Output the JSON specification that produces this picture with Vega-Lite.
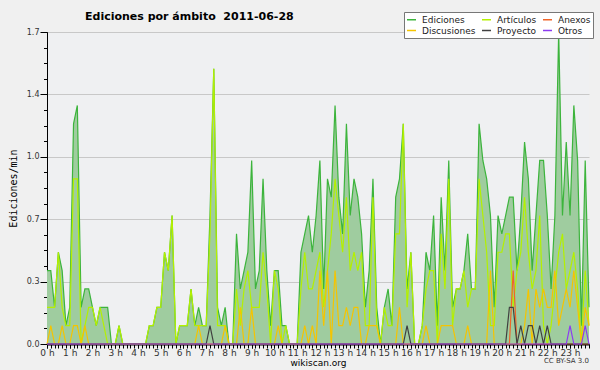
{
  "$schema": "https://vega.github.io/schema/vega-lite/v6.json",
  "autosize": {"type": "none"},
  "width": 542,
  "height": 312,
  "padding": {"left": 47, "top": 32, "right": 11, "bottom": 26},
  "background": "#f0f0f0",
  "config": {
    "view": {"stroke": null, "fill": "#eff0f2"},
    "font": "DejaVu Sans",
    "axis": {"domainColor": "#000", "tickColor": "#000", "labelColor": "#333", "titleColor": "#000", "titleFontWeight": "normal", "labelFont": "DejaVu Sans"}
  },
  "title": {"text": "Ediciones por ámbito\u00a0 2011-06-28", "anchor": "start", "frame": "group", "dx": 38, "offset": -21, "baseline": "bottom", "fontSize": 11, "font": "DejaVu Sans", "fontWeight": "bold", "color": "#000"},
  "data": {"values": [
    {"m":0,"Ediciones":0.4,"Artículos":0.2,"Discusiones":0,"Anexos":0,"Proyecto":0,"Otros":0},
    {"m":10,"Ediciones":0.4,"Artículos":0.2,"Discusiones":0.1,"Anexos":0,"Proyecto":0,"Otros":0},
    {"m":20,"Ediciones":0.2,"Artículos":0.2,"Discusiones":0,"Anexos":0,"Proyecto":0,"Otros":0},
    {"m":30,"Ediciones":0.5,"Artículos":0.5,"Discusiones":0,"Anexos":0,"Proyecto":0,"Otros":0},
    {"m":40,"Ediciones":0.4,"Artículos":0.2,"Discusiones":0.1,"Anexos":0,"Proyecto":0,"Otros":0},
    {"m":50,"Ediciones":0.1,"Artículos":0.1,"Discusiones":0,"Anexos":0,"Proyecto":0,"Otros":0},
    {"m":60,"Ediciones":0.2,"Artículos":0.1,"Discusiones":0,"Anexos":0,"Proyecto":0,"Otros":0},
    {"m":70,"Ediciones":1.2,"Artículos":0.9,"Discusiones":0.1,"Anexos":0,"Proyecto":0,"Otros":0},
    {"m":80,"Ediciones":1.3,"Artículos":0.9,"Discusiones":0.1,"Anexos":0,"Proyecto":0,"Otros":0},
    {"m":90,"Ediciones":0.2,"Artículos":0,"Discusiones":0,"Anexos":0,"Proyecto":0,"Otros":0},
    {"m":100,"Ediciones":0.3,"Artículos":0.1,"Discusiones":0.1,"Anexos":0,"Proyecto":0,"Otros":0},
    {"m":110,"Ediciones":0.3,"Artículos":0.2,"Discusiones":0,"Anexos":0,"Proyecto":0,"Otros":0},
    {"m":120,"Ediciones":0.2,"Artículos":0.2,"Discusiones":0,"Anexos":0,"Proyecto":0,"Otros":0},
    {"m":130,"Ediciones":0.1,"Artículos":0.1,"Discusiones":0,"Anexos":0,"Proyecto":0,"Otros":0},
    {"m":140,"Ediciones":0.2,"Artículos":0.2,"Discusiones":0,"Anexos":0,"Proyecto":0,"Otros":0},
    {"m":150,"Ediciones":0.2,"Artículos":0.1,"Discusiones":0,"Anexos":0,"Proyecto":0,"Otros":0},
    {"m":160,"Ediciones":0.2,"Artículos":0,"Discusiones":0,"Anexos":0,"Proyecto":0,"Otros":0},
    {"m":170,"Ediciones":0,"Artículos":0,"Discusiones":0,"Anexos":0,"Proyecto":0,"Otros":0},
    {"m":180,"Ediciones":0,"Artículos":0,"Discusiones":0,"Anexos":0,"Proyecto":0,"Otros":0},
    {"m":190,"Ediciones":0.1,"Artículos":0.1,"Discusiones":0,"Anexos":0,"Proyecto":0,"Otros":0},
    {"m":200,"Ediciones":0,"Artículos":0,"Discusiones":0,"Anexos":0,"Proyecto":0,"Otros":0},
    {"m":210,"Ediciones":0,"Artículos":0,"Discusiones":0,"Anexos":0,"Proyecto":0,"Otros":0},
    {"m":220,"Ediciones":0,"Artículos":0,"Discusiones":0,"Anexos":0,"Proyecto":0,"Otros":0},
    {"m":230,"Ediciones":0,"Artículos":0,"Discusiones":0,"Anexos":0,"Proyecto":0,"Otros":0},
    {"m":240,"Ediciones":0,"Artículos":0,"Discusiones":0,"Anexos":0,"Proyecto":0,"Otros":0},
    {"m":250,"Ediciones":0,"Artículos":0,"Discusiones":0,"Anexos":0,"Proyecto":0,"Otros":0},
    {"m":260,"Ediciones":0,"Artículos":0,"Discusiones":0,"Anexos":0,"Proyecto":0,"Otros":0},
    {"m":270,"Ediciones":0.1,"Artículos":0.1,"Discusiones":0,"Anexos":0,"Proyecto":0,"Otros":0},
    {"m":280,"Ediciones":0.1,"Artículos":0.1,"Discusiones":0,"Anexos":0,"Proyecto":0,"Otros":0},
    {"m":290,"Ediciones":0.2,"Artículos":0.2,"Discusiones":0,"Anexos":0,"Proyecto":0,"Otros":0},
    {"m":300,"Ediciones":0.2,"Artículos":0.2,"Discusiones":0,"Anexos":0,"Proyecto":0,"Otros":0},
    {"m":310,"Ediciones":0.5,"Artículos":0.5,"Discusiones":0,"Anexos":0,"Proyecto":0,"Otros":0},
    {"m":320,"Ediciones":0.4,"Artículos":0.4,"Discusiones":0,"Anexos":0,"Proyecto":0,"Otros":0},
    {"m":330,"Ediciones":0.7,"Artículos":0.7,"Discusiones":0,"Anexos":0,"Proyecto":0,"Otros":0},
    {"m":340,"Ediciones":0,"Artículos":0,"Discusiones":0,"Anexos":0,"Proyecto":0,"Otros":0},
    {"m":350,"Ediciones":0.1,"Artículos":0.1,"Discusiones":0,"Anexos":0,"Proyecto":0,"Otros":0},
    {"m":360,"Ediciones":0.1,"Artículos":0.1,"Discusiones":0,"Anexos":0,"Proyecto":0,"Otros":0},
    {"m":370,"Ediciones":0.1,"Artículos":0.1,"Discusiones":0,"Anexos":0,"Proyecto":0,"Otros":0},
    {"m":380,"Ediciones":0.3,"Artículos":0.3,"Discusiones":0,"Anexos":0,"Proyecto":0,"Otros":0},
    {"m":390,"Ediciones":0.1,"Artículos":0.1,"Discusiones":0,"Anexos":0,"Proyecto":0,"Otros":0},
    {"m":400,"Ediciones":0.2,"Artículos":0.1,"Discusiones":0.1,"Anexos":0,"Proyecto":0,"Otros":0},
    {"m":410,"Ediciones":0.1,"Artículos":0.1,"Discusiones":0,"Anexos":0,"Proyecto":0,"Otros":0},
    {"m":420,"Ediciones":0.1,"Artículos":0.1,"Discusiones":0,"Anexos":0,"Proyecto":0,"Otros":0},
    {"m":430,"Ediciones":0.7,"Artículos":0.6,"Discusiones":0,"Anexos":0,"Proyecto":0.1,"Otros":0},
    {"m":440,"Ediciones":1.5,"Artículos":1.5,"Discusiones":0,"Anexos":0,"Proyecto":0,"Otros":0},
    {"m":450,"Ediciones":0.2,"Artículos":0.1,"Discusiones":0,"Anexos":0,"Proyecto":0,"Otros":0},
    {"m":460,"Ediciones":0.1,"Artículos":0.1,"Discusiones":0,"Anexos":0,"Proyecto":0,"Otros":0},
    {"m":470,"Ediciones":0.2,"Artículos":0.1,"Discusiones":0.1,"Anexos":0,"Proyecto":0,"Otros":0},
    {"m":480,"Ediciones":0,"Artículos":0,"Discusiones":0,"Anexos":0,"Proyecto":0,"Otros":0},
    {"m":490,"Ediciones":0,"Artículos":0,"Discusiones":0,"Anexos":0,"Proyecto":0,"Otros":0},
    {"m":500,"Ediciones":0.6,"Artículos":0.3,"Discusiones":0,"Anexos":0,"Proyecto":0,"Otros":0},
    {"m":510,"Ediciones":0.3,"Artículos":0.1,"Discusiones":0.2,"Anexos":0,"Proyecto":0,"Otros":0},
    {"m":520,"Ediciones":0.4,"Artículos":0.3,"Discusiones":0,"Anexos":0,"Proyecto":0,"Otros":0},
    {"m":530,"Ediciones":0.5,"Artículos":0.4,"Discusiones":0,"Anexos":0,"Proyecto":0,"Otros":0},
    {"m":540,"Ediciones":1.0,"Artículos":0.2,"Discusiones":0.2,"Anexos":0,"Proyecto":0,"Otros":0},
    {"m":550,"Ediciones":0.3,"Artículos":0.2,"Discusiones":0,"Anexos":0,"Proyecto":0,"Otros":0},
    {"m":560,"Ediciones":0.4,"Artículos":0.2,"Discusiones":0,"Anexos":0,"Proyecto":0,"Otros":0},
    {"m":570,"Ediciones":0.9,"Artículos":0.5,"Discusiones":0,"Anexos":0,"Proyecto":0,"Otros":0},
    {"m":580,"Ediciones":0.4,"Artículos":0.3,"Discusiones":0,"Anexos":0,"Proyecto":0,"Otros":0},
    {"m":590,"Ediciones":0.1,"Artículos":0,"Discusiones":0,"Anexos":0,"Proyecto":0,"Otros":0},
    {"m":600,"Ediciones":0.4,"Artículos":0.4,"Discusiones":0,"Anexos":0,"Proyecto":0,"Otros":0},
    {"m":610,"Ediciones":0.4,"Artículos":0.3,"Discusiones":0.1,"Anexos":0,"Proyecto":0,"Otros":0},
    {"m":620,"Ediciones":0.1,"Artículos":0,"Discusiones":0,"Anexos":0,"Proyecto":0,"Otros":0},
    {"m":630,"Ediciones":0.1,"Artículos":0.1,"Discusiones":0,"Anexos":0,"Proyecto":0,"Otros":0},
    {"m":640,"Ediciones":0,"Artículos":0,"Discusiones":0,"Anexos":0,"Proyecto":0,"Otros":0},
    {"m":650,"Ediciones":0,"Artículos":0,"Discusiones":0,"Anexos":0,"Proyecto":0,"Otros":0},
    {"m":660,"Ediciones":0,"Artículos":0,"Discusiones":0,"Anexos":0,"Proyecto":0,"Otros":0},
    {"m":670,"Ediciones":0.5,"Artículos":0.3,"Discusiones":0,"Anexos":0,"Proyecto":0,"Otros":0},
    {"m":680,"Ediciones":0.6,"Artículos":0.5,"Discusiones":0.1,"Anexos":0,"Proyecto":0,"Otros":0},
    {"m":690,"Ediciones":0.7,"Artículos":0.3,"Discusiones":0,"Anexos":0,"Proyecto":0,"Otros":0},
    {"m":700,"Ediciones":0.5,"Artículos":0.3,"Discusiones":0.1,"Anexos":0,"Proyecto":0,"Otros":0},
    {"m":710,"Ediciones":0.7,"Artículos":0.4,"Discusiones":0,"Anexos":0,"Proyecto":0,"Otros":0},
    {"m":720,"Ediciones":1.0,"Artículos":0.5,"Discusiones":0.4,"Anexos":0,"Proyecto":0,"Otros":0},
    {"m":730,"Ediciones":0.3,"Artículos":0.2,"Discusiones":0.1,"Anexos":0,"Proyecto":0,"Otros":0},
    {"m":740,"Ediciones":0.9,"Artículos":0.4,"Discusiones":0.4,"Anexos":0,"Proyecto":0,"Otros":0},
    {"m":750,"Ediciones":0.8,"Artículos":0.6,"Discusiones":0,"Anexos":0,"Proyecto":0,"Otros":0},
    {"m":760,"Ediciones":1.3,"Artículos":0.9,"Discusiones":0.4,"Anexos":0,"Proyecto":0,"Otros":0},
    {"m":770,"Ediciones":0.8,"Artículos":0.7,"Discusiones":0.1,"Anexos":0,"Proyecto":0,"Otros":0},
    {"m":780,"Ediciones":0.6,"Artículos":0.5,"Discusiones":0.1,"Anexos":0,"Proyecto":0,"Otros":0},
    {"m":790,"Ediciones":1.2,"Artículos":0.8,"Discusiones":0.2,"Anexos":0,"Proyecto":0,"Otros":0},
    {"m":800,"Ediciones":0.7,"Artículos":0.4,"Discusiones":0.1,"Anexos":0,"Proyecto":0,"Otros":0},
    {"m":810,"Ediciones":0.9,"Artículos":0.5,"Discusiones":0.2,"Anexos":0,"Proyecto":0,"Otros":0},
    {"m":820,"Ediciones":0.8,"Artículos":0.4,"Discusiones":0.2,"Anexos":0,"Proyecto":0,"Otros":0},
    {"m":830,"Ediciones":0.6,"Artículos":0.5,"Discusiones":0,"Anexos":0,"Proyecto":0,"Otros":0},
    {"m":840,"Ediciones":0.2,"Artículos":0.1,"Discusiones":0,"Anexos":0,"Proyecto":0,"Otros":0},
    {"m":850,"Ediciones":0.4,"Artículos":0.1,"Discusiones":0.1,"Anexos":0,"Proyecto":0,"Otros":0},
    {"m":860,"Ediciones":0.9,"Artículos":0.8,"Discusiones":0.1,"Anexos":0,"Proyecto":0,"Otros":0},
    {"m":870,"Ediciones":0.2,"Artículos":0.1,"Discusiones":0.1,"Anexos":0,"Proyecto":0,"Otros":0},
    {"m":880,"Ediciones":0,"Artículos":0,"Discusiones":0,"Anexos":0,"Proyecto":0,"Otros":0},
    {"m":890,"Ediciones":0.2,"Artículos":0.2,"Discusiones":0,"Anexos":0,"Proyecto":0,"Otros":0},
    {"m":900,"Ediciones":0.3,"Artículos":0.1,"Discusiones":0,"Anexos":0,"Proyecto":0,"Otros":0},
    {"m":910,"Ediciones":0.1,"Artículos":0.1,"Discusiones":0,"Anexos":0,"Proyecto":0,"Otros":0},
    {"m":920,"Ediciones":0.8,"Artículos":0.6,"Discusiones":0,"Anexos":0,"Proyecto":0,"Otros":0},
    {"m":930,"Ediciones":0.9,"Artículos":0.6,"Discusiones":0.2,"Anexos":0,"Proyecto":0,"Otros":0},
    {"m":940,"Ediciones":1.2,"Artículos":1.2,"Discusiones":0,"Anexos":0,"Proyecto":0,"Otros":0},
    {"m":950,"Ediciones":0.3,"Artículos":0.2,"Discusiones":0,"Anexos":0,"Proyecto":0.1,"Otros":0},
    {"m":960,"Ediciones":0.5,"Artículos":0.5,"Discusiones":0,"Anexos":0,"Proyecto":0,"Otros":0},
    {"m":970,"Ediciones":0,"Artículos":0,"Discusiones":0,"Anexos":0,"Proyecto":0,"Otros":0},
    {"m":980,"Ediciones":0,"Artículos":0,"Discusiones":0,"Anexos":0,"Proyecto":0,"Otros":0},
    {"m":990,"Ediciones":0.1,"Artículos":0.1,"Discusiones":0,"Anexos":0,"Proyecto":0,"Otros":0},
    {"m":1000,"Ediciones":0.5,"Artículos":0.3,"Discusiones":0.1,"Anexos":0,"Proyecto":0,"Otros":0},
    {"m":1010,"Ediciones":0.4,"Artículos":0.4,"Discusiones":0,"Anexos":0,"Proyecto":0,"Otros":0},
    {"m":1020,"Ediciones":0.7,"Artículos":0.4,"Discusiones":0,"Anexos":0,"Proyecto":0,"Otros":0},
    {"m":1030,"Ediciones":0.1,"Artículos":0,"Discusiones":0,"Anexos":0,"Proyecto":0,"Otros":0},
    {"m":1040,"Ediciones":0.8,"Artículos":0.6,"Discusiones":0.1,"Anexos":0,"Proyecto":0,"Otros":0},
    {"m":1050,"Ediciones":0.4,"Artículos":0.3,"Discusiones":0.1,"Anexos":0,"Proyecto":0,"Otros":0},
    {"m":1060,"Ediciones":1.0,"Artículos":0.9,"Discusiones":0.1,"Anexos":0,"Proyecto":0,"Otros":0},
    {"m":1070,"Ediciones":0.2,"Artículos":0.1,"Discusiones":0.1,"Anexos":0,"Proyecto":0,"Otros":0},
    {"m":1080,"Ediciones":0.3,"Artículos":0.3,"Discusiones":0,"Anexos":0,"Proyecto":0,"Otros":0},
    {"m":1090,"Ediciones":0.3,"Artículos":0.3,"Discusiones":0,"Anexos":0,"Proyecto":0,"Otros":0},
    {"m":1100,"Ediciones":0.4,"Artículos":0.4,"Discusiones":0,"Anexos":0,"Proyecto":0,"Otros":0},
    {"m":1110,"Ediciones":0.6,"Artículos":0.2,"Discusiones":0.1,"Anexos":0,"Proyecto":0,"Otros":0},
    {"m":1120,"Ediciones":0.3,"Artículos":0.3,"Discusiones":0,"Anexos":0,"Proyecto":0,"Otros":0},
    {"m":1130,"Ediciones":0.3,"Artículos":0.3,"Discusiones":0,"Anexos":0,"Proyecto":0,"Otros":0},
    {"m":1140,"Ediciones":1.2,"Artículos":0.9,"Discusiones":0,"Anexos":0,"Proyecto":0,"Otros":0},
    {"m":1150,"Ediciones":1.0,"Artículos":0.7,"Discusiones":0,"Anexos":0,"Proyecto":0,"Otros":0},
    {"m":1160,"Ediciones":0.9,"Artículos":0.5,"Discusiones":0,"Anexos":0,"Proyecto":0,"Otros":0},
    {"m":1170,"Ediciones":0.7,"Artículos":0.1,"Discusiones":0.4,"Anexos":0,"Proyecto":0,"Otros":0},
    {"m":1180,"Ediciones":0.2,"Artículos":0.1,"Discusiones":0,"Anexos":0,"Proyecto":0,"Otros":0},
    {"m":1190,"Ediciones":0.7,"Artículos":0.5,"Discusiones":0,"Anexos":0,"Proyecto":0,"Otros":0},
    {"m":1200,"Ediciones":0.6,"Artículos":0.5,"Discusiones":0,"Anexos":0,"Proyecto":0,"Otros":0},
    {"m":1210,"Ediciones":0.7,"Artículos":0.6,"Discusiones":0,"Anexos":0,"Proyecto":0,"Otros":0},
    {"m":1220,"Ediciones":0.8,"Artículos":0.6,"Discusiones":0,"Anexos":0,"Proyecto":0.2,"Otros":0},
    {"m":1230,"Ediciones":0.8,"Artículos":0.2,"Discusiones":0,"Anexos":0.4,"Proyecto":0.2,"Otros":0},
    {"m":1240,"Ediciones":0.4,"Artículos":0.4,"Discusiones":0,"Anexos":0,"Proyecto":0,"Otros":0},
    {"m":1250,"Ediciones":0.7,"Artículos":0.5,"Discusiones":0,"Anexos":0,"Proyecto":0.1,"Otros":0},
    {"m":1260,"Ediciones":1.1,"Artículos":0.8,"Discusiones":0.1,"Anexos":0,"Proyecto":0,"Otros":0},
    {"m":1270,"Ediciones":0.9,"Artículos":0.5,"Discusiones":0.3,"Anexos":0,"Proyecto":0.1,"Otros":0},
    {"m":1280,"Ediciones":0.4,"Artículos":0.3,"Discusiones":0,"Anexos":0,"Proyecto":0.1,"Otros":0},
    {"m":1290,"Ediciones":0.7,"Artículos":0.4,"Discusiones":0.3,"Anexos":0,"Proyecto":0,"Otros":0},
    {"m":1300,"Ediciones":1.0,"Artículos":0.7,"Discusiones":0.2,"Anexos":0,"Proyecto":0.1,"Otros":0},
    {"m":1310,"Ediciones":1.0,"Artículos":0.1,"Discusiones":0.3,"Anexos":0,"Proyecto":0,"Otros":0},
    {"m":1320,"Ediciones":0.7,"Artículos":0,"Discusiones":0.2,"Anexos":0,"Proyecto":0.1,"Otros":0},
    {"m":1330,"Ediciones":0.3,"Artículos":0.1,"Discusiones":0.2,"Anexos":0,"Proyecto":0,"Otros":0},
    {"m":1340,"Ediciones":0.7,"Artículos":0.3,"Discusiones":0.4,"Anexos":0,"Proyecto":0,"Otros":0},
    {"m":1350,"Ediciones":1.7,"Artículos":0.5,"Discusiones":0.1,"Anexos":0,"Proyecto":0,"Otros":0},
    {"m":1360,"Ediciones":0.7,"Artículos":0.6,"Discusiones":0.2,"Anexos":0,"Proyecto":0,"Otros":0},
    {"m":1370,"Ediciones":1.1,"Artículos":0.3,"Discusiones":0.3,"Anexos":0,"Proyecto":0,"Otros":0},
    {"m":1380,"Ediciones":0.7,"Artículos":0.4,"Discusiones":0.2,"Anexos":0,"Proyecto":0,"Otros":0.1},
    {"m":1390,"Ediciones":1.3,"Artículos":0.5,"Discusiones":0.4,"Anexos":0,"Proyecto":0,"Otros":0},
    {"m":1400,"Ediciones":1.0,"Artículos":0.3,"Discusiones":0.2,"Anexos":0,"Proyecto":0,"Otros":0},
    {"m":1410,"Ediciones":0.1,"Artículos":0,"Discusiones":0,"Anexos":0,"Proyecto":0,"Otros":0},
    {"m":1420,"Ediciones":1.0,"Artículos":0.4,"Discusiones":0.2,"Anexos":0,"Proyecto":0,"Otros":0.1},
    {"m":1430,"Ediciones":0.2,"Artículos":0.1,"Discusiones":0.1,"Anexos":0,"Proyecto":0,"Otros":0}
  ]},
  "layer": [
    {
      "transform": [
        {"fold": ["Ediciones", "Artículos", "Anexos", "Discusiones", "Proyecto", "Otros"], "as": ["serie", "v"]},
        {"filter": "datum.serie === 'Ediciones'"}
      ],
      "mark": {"type": "area", "color": "#9fcc9f"},
      "encoding": {
        "x": {"field": "m", "type": "quantitative", "scale": {"domain": [0, 1430], "nice": false, "zero": false},
          "axis": {"values": [0,60,120,180,240,300,360,420,480,540,600,660,720,780,840,900,960,1020,1080,1140,1200,1260,1320,1380],
            "orient": "bottom", "labelExpr": "(datum.value / 60) + ' h'", "tickSize": 4, "labelFontSize": 9, "labelPadding": 0, "labelFlush": false, "labelOverlap": false,
            "grid": false, "domainWidth": 2, "title": "wikiscan.org", "titleFontSize": 9, "titlePadding": 1}},
        "y": {"field": "v", "type": "quantitative", "scale": {"domain": [0, 1.7], "nice": false},
          "axis": {"values": [0, 0.34, 0.68, 1.02, 1.36, 1.7], "orient": "left", "format": ".1f", "tickSize": 7, "labelFontSize": 8, "labelPadding": 1,
            "grid": true, "gridColor": "#c8c8c8", "title": "Ediciones/min", "titleFont": "DejaVu Sans Mono", "titleFontSize": 10, "titlePadding": 8}}
      }
    },
    {
      "transform": [
        {"fold": ["Ediciones", "Artículos", "Anexos", "Discusiones", "Proyecto", "Otros"], "as": ["serie", "v"]}
      ],
      "mark": {"type": "line", "strokeWidth": 1.2},
      "encoding": {
        "x": {"field": "m", "type": "quantitative", "axis": {"orient": "bottom", "tickCount": 143, "labels": false, "domain": false, "grid": false, "tickSize": 4, "title": null}},
        "y": {"field": "v", "type": "quantitative", "axis": {"values": [0,0.085,0.17,0.255,0.34,0.425,0.51,0.595,0.68,0.765,0.85,0.935,1.02,1.105,1.19,1.275,1.36,1.445,1.53,1.615,1.7],
          "labels": false, "domain": false, "grid": false, "tickSize": 3.5, "title": null, "orient": "left"}},
        "color": {"field": "serie", "type": "nominal",
          "scale": {"domain": ["Ediciones", "Discusiones", "Artículos", "Proyecto", "Anexos", "Otros"],
            "range": ["#3cb43c", "#f5c400", "#b4f000", "#404040", "#f06428", "#8c3cf0"]},
          "legend": {"orient": "none", "legendX": 357, "legendY": -20, "title": null, "columns": 3, "fillColor": "#ffffff", "strokeColor": "#777777",
            "padding": 2, "symbolType": "stroke", "symbolSize": 81, "symbolStrokeWidth": 1.5, "labelFontSize": 9, "labelColor": "#222222",
            "labelOffset": 5, "columnPadding": 3, "rowPadding": 0, "labelLimit": 100}}
      }
    },
    {
      "data": {"values": [{"t": "CC BY-SA 3.0"}]},
      "mark": {"type": "text", "align": "right", "baseline": "middle", "dy": 17, "fontSize": 7, "color": "#333333"},
      "encoding": {
        "x": {"datum": 1430, "type": "quantitative", "axis": null},
        "y": {"datum": 0, "type": "quantitative", "axis": null},
        "text": {"field": "t"}
      }
    }
  ],
  "resolve": {"axis": {"x": "independent", "y": "independent"}}
}
